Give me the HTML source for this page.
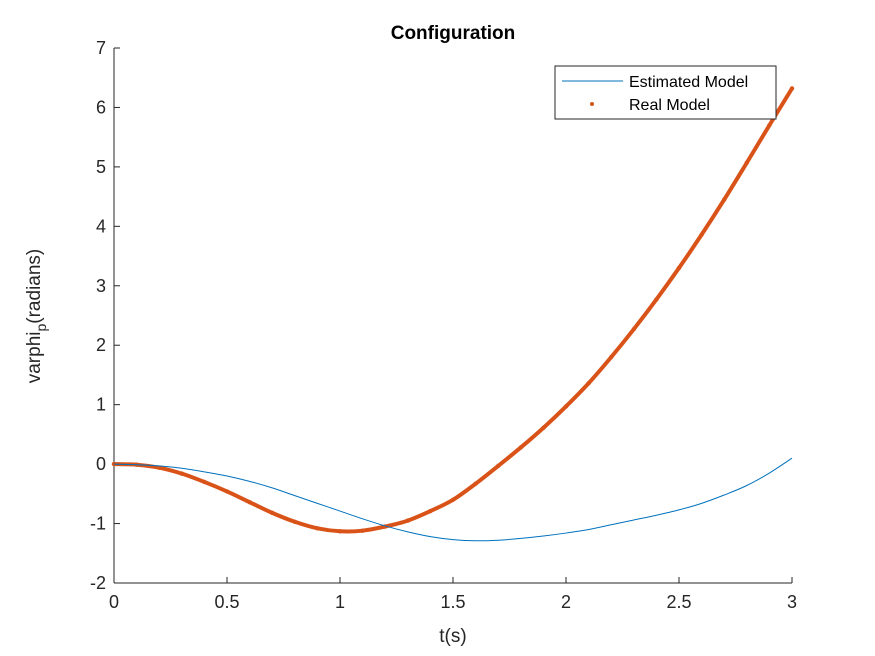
<!DOCTYPE html>
<html><head><meta charset="utf-8"><style>
body{margin:0;background:#fff}
svg{display:block;font-family:"Liberation Sans",sans-serif}
</style></head><body>
<svg id="chart" width="875" height="656">
<rect width="875" height="656" fill="#fff"/>
<text x="453" y="39" text-anchor="middle" font-size="19" font-weight="bold" fill="#000">Configuration</text>
<g id="axes"></g>
<g id="series"></g>
<text x="453" y="642" text-anchor="middle" font-size="19" fill="#262626">t(s)</text>
<text transform="translate(40,316) rotate(-90)" text-anchor="middle" font-size="19" fill="#262626">varphi<tspan dy="6" font-size="14">p</tspan><tspan dy="-6">(radians)</tspan></text>
<g>
<rect x="555" y="66" width="221" height="53" fill="#fff" stroke="#262626" stroke-width="1"/>
<line x1="562" y1="81" x2="623" y2="81" stroke="#0072bd" stroke-width="1"/>
<text x="629" y="87" font-size="16" fill="#000">Estimated Model</text>
<circle cx="592" cy="104" r="2" fill="#d95319"/>
<text x="629" y="110" font-size="16" fill="#000">Real Model</text>
</g>
</svg>
<script>
const tValues=[0,0.1,0.2,0.3,0.4,0.5,0.6,0.7,0.8,0.9,1.0,1.1,1.2,1.3,1.4,1.5,1.6,1.7,1.8,1.9,2.0,2.1,2.2,2.3,2.4,2.5,2.6,2.7,2.8,2.9,3.0];
const estimatedValues=[0,-0.01,-0.03,-0.07,-0.13,-0.2,-0.29,-0.4,-0.53,-0.66,-0.79,-0.92,-1.04,-1.14,-1.22,-1.27,-1.29,-1.28,-1.25,-1.21,-1.16,-1.1,-1.02,-0.94,-0.86,-0.77,-0.66,-0.52,-0.36,-0.15,0.1];
const realValues=[0,-0.01,-0.06,-0.16,-0.3,-0.46,-0.64,-0.82,-0.97,-1.08,-1.13,-1.12,-1.05,-0.95,-0.79,-0.6,-0.33,-0.03,0.28,0.61,0.97,1.36,1.8,2.27,2.77,3.3,3.86,4.45,5.07,5.7,6.32];
const xTicks=[0,0.5,1,1.5,2,2.5,3];
const xTickLabels=["0","0.5","1","1.5","2","2.5","3"];
const yTicks=[-2,-1,0,1,2,3,4,5,6,7];
const yTickLabels=["-2","-1","0","1","2","3","4","5","6","7"];
const X0=114,X1=792,Y0=583,Y1=48;
function xs(v){return X0+(v-0)/(3-0)*(X1-X0);}
function ys(v){return Y0-(v+2)/(7+2)*(Y0-Y1);}
const NS="http://www.w3.org/2000/svg";
const axes=document.getElementById('axes'),series=document.getElementById('series');
function mk(tag,attrs,parent){const e=document.createElementNS(NS,tag);for(const k in attrs)e.setAttribute(k,attrs[k]);parent.appendChild(e);return e;}
let a=mk('line',{x1:X0,y1:Y0,x2:X1,y2:Y0,stroke:'#262626'},axes);


a=mk('line',{x1:X0,y1:Y0,x2:X0,y2:Y1,stroke:'#262626'},axes);


xTicks.forEach((v,i)=>{const x=xs(v);
 mk('line',{x1:x,y1:Y0,x2:x,y2:Y0-6,stroke:'#262626'},axes);
 const t=mk('text',{x:x,y:Y0+25,'text-anchor':'middle','font-size':18,fill:'#262626'},axes);t.textContent=xTickLabels[i];
 
 });
yTicks.forEach((v,i)=>{const y=ys(v);
 mk('line',{x1:X0,y1:y,x2:X0+6,y2:y,stroke:'#262626'},axes);
 const t=mk('text',{x:X0-8,y:y+6,'text-anchor':'end','font-size':18,fill:'#262626'},axes);t.textContent=yTickLabels[i];
 
 });
function smooth(vals){const p=tValues.map((t,i)=>[xs(t),ys(vals[i])]);let d='M'+p[0][0]+','+p[0][1];
 for(let i=0;i<p.length-1;i++){const p0=p[Math.max(i-1,0)],p1=p[i],p2=p[i+1],p3=p[Math.min(i+2,p.length-1)];
 d+=' C'+(p1[0]+(p2[0]-p0[0])/6)+','+(p1[1]+(p2[1]-p0[1])/6)+' '+(p2[0]-(p3[0]-p1[0])/6)+','+(p2[1]-(p3[1]-p1[1])/6)+' '+p2[0]+','+p2[1];}
 return d;}
const rl=mk('path',{d:smooth(realValues),fill:'none',stroke:'#d95319','stroke-width':4},series);


tValues.forEach((t,i)=>{const c=mk('circle',{cx:xs(t),cy:ys(realValues[i]),r:2.2,fill:'#d95319'},series);
 
 });
const bl=mk('path',{d:smooth(estimatedValues),fill:'none',stroke:'#0072bd','stroke-width':1},series);


</script>
</body></html>
